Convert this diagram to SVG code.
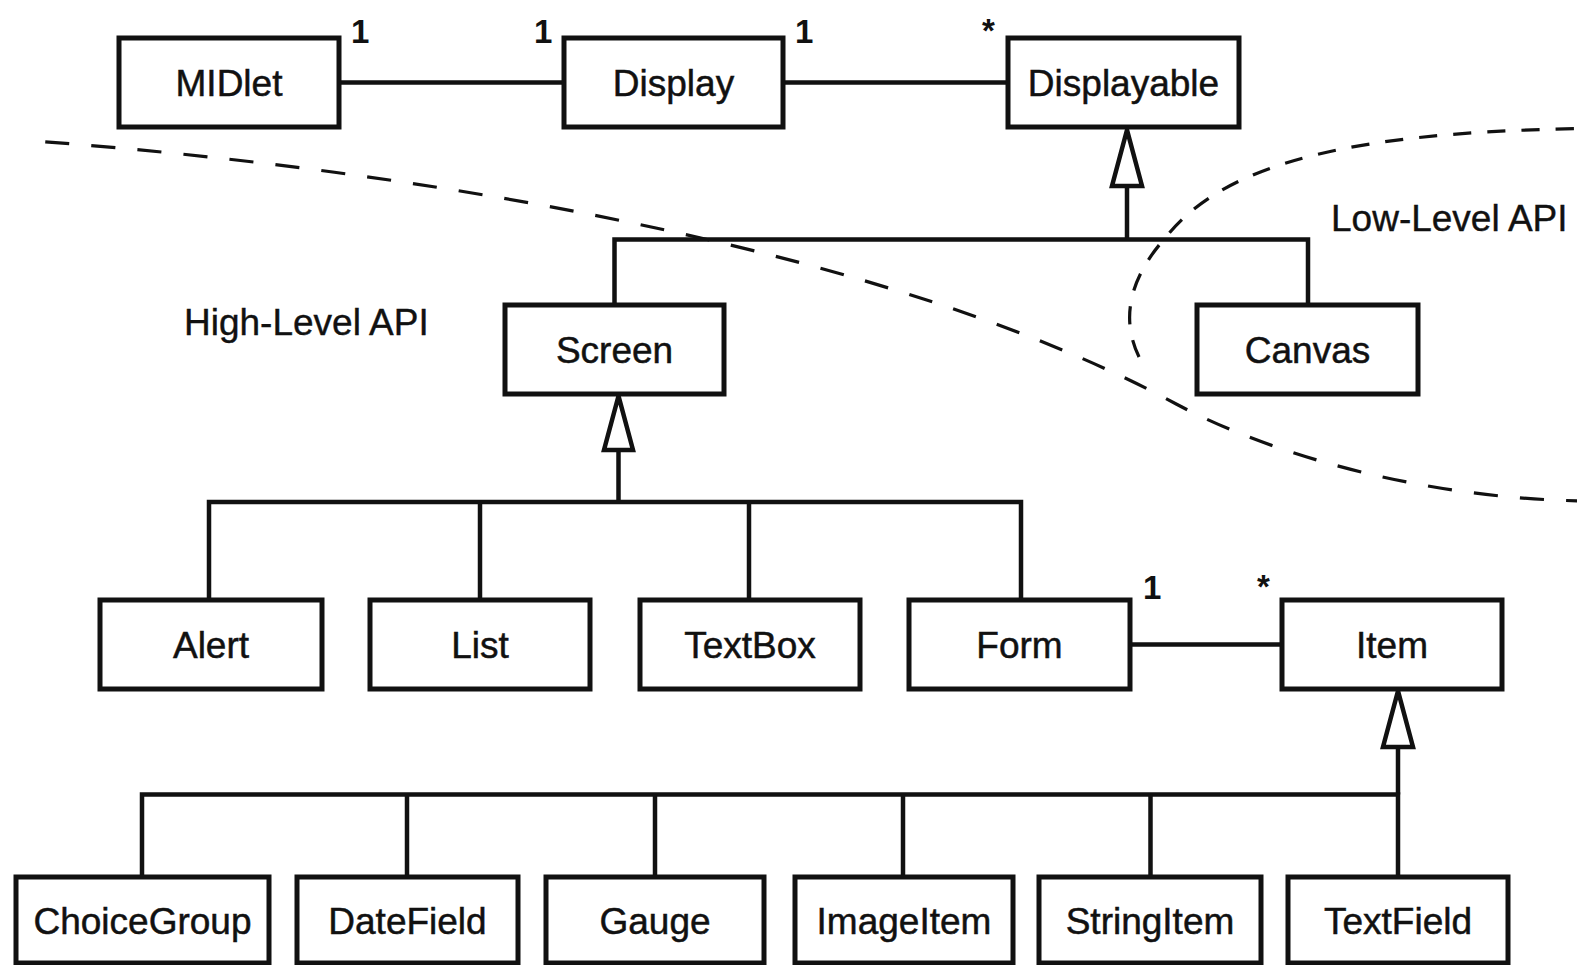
<svg xmlns="http://www.w3.org/2000/svg" width="1577" height="965" viewBox="0 0 1577 965">
<style>
.box{fill:#fff;stroke:#111;stroke-width:5}
.lbl{font-family:"Liberation Sans",Arial,sans-serif;font-size:37px;fill:#111;stroke:#111;stroke-width:0.5;text-anchor:middle}
.free{font-family:"Liberation Sans",Arial,sans-serif;font-size:37px;fill:#111;stroke:#111;stroke-width:0.4}
.mult{font-family:"Liberation Sans",Arial,sans-serif;font-size:33px;font-weight:bold;fill:#111}
.ln{fill:none;stroke:#111;stroke-width:4.5}
.tri{fill:#fff;stroke:#111;stroke-width:4.5;stroke-linejoin:miter}
.dash{fill:none;stroke:#111;stroke-width:3.2}
</style>
<rect width="1577" height="965" fill="#fff"/>
<g id="boundaries">
<path class="dash" stroke-dasharray="24 22" transform="scale(1.0057)" d="M45 141 C450 172 900 255 1170 402 C1270 455 1420 495 1570 498"/>
<path class="dash" stroke-dasharray="18 16" transform="scale(1.0057)" d="M1565 128 C1350 132 1220 160 1160 235 C1115 285 1115 330 1140 368"/>
</g>
<g id="connectors">
<line class="ln" x1="339" y1="82.5" x2="564" y2="82.5"/>
<line class="ln" x1="783" y1="82.5" x2="1008" y2="82.5"/>
<polyline class="ln" points="1127,186 1127,239.5"/>
<polyline class="ln" points="614.5,305 614.5,239.5 1308,239.5 1308,305"/>
<polygon class="tri" points="1127,130 1112,186 1142,186"/>
<polyline class="ln" points="618.5,450 618.5,502"/>
<polyline class="ln" points="209,600 209,502 1021,502 1021,600"/>
<line class="ln" x1="480" y1="502" x2="480" y2="600"/>
<line class="ln" x1="749" y1="502" x2="749" y2="600"/>
<polygon class="tri" points="618.5,396 604,450 633,450"/>
<line class="ln" x1="1130" y1="644.5" x2="1282" y2="644.5"/>
<polyline class="ln" points="1398,747 1398,794.5"/>
<polyline class="ln" points="142,877 142,794.5 1398,794.5 1398,877"/>
<line class="ln" x1="407" y1="794.5" x2="407" y2="877"/>
<line class="ln" x1="655" y1="794.5" x2="655" y2="877"/>
<line class="ln" x1="903" y1="794.5" x2="903" y2="877"/>
<line class="ln" x1="1150.5" y1="794.5" x2="1150.5" y2="877"/>
<polygon class="tri" points="1398,691 1383,747 1413,747"/>
<text class="mult" x="351" y="43">1</text>
<text class="mult" x="534" y="43">1</text>
<text class="mult" x="795" y="43">1</text>
<text class="mult" x="982" y="42" font-size="26">*</text>
<text class="mult" x="1143" y="599">1</text>
<text class="mult" x="1257" y="598" font-size="26">*</text>
</g>
<g id="labels">
<text class="free" x="184" y="335">High-Level API</text>
<text class="free" x="1331" y="231">Low-Level API</text>
</g>
<g id="MIDlet"><rect class="box" x="119" y="38" width="220" height="89"/><text class="lbl" x="229" y="96">MIDlet</text></g>
<g id="Display"><rect class="box" x="564" y="38" width="219" height="89"/><text class="lbl" x="673.5" y="96">Display</text></g>
<g id="Displayable"><rect class="box" x="1008" y="38" width="231" height="89"/><text class="lbl" x="1123.5" y="96">Displayable</text></g>
<g id="Screen"><rect class="box" x="505" y="305" width="219" height="89"/><text class="lbl" x="614.5" y="363">Screen</text></g>
<g id="Canvas"><rect class="box" x="1197" y="305" width="221" height="89"/><text class="lbl" x="1307.5" y="363">Canvas</text></g>
<g id="Alert"><rect class="box" x="100" y="600" width="222" height="89"/><text class="lbl" x="211" y="658">Alert</text></g>
<g id="List"><rect class="box" x="370" y="600" width="220" height="89"/><text class="lbl" x="480" y="658">List</text></g>
<g id="TextBox"><rect class="box" x="640" y="600" width="220" height="89"/><text class="lbl" x="750" y="658">TextBox</text></g>
<g id="Form"><rect class="box" x="909" y="600" width="221" height="89"/><text class="lbl" x="1019.5" y="658">Form</text></g>
<g id="Item"><rect class="box" x="1282" y="600" width="220" height="89"/><text class="lbl" x="1392" y="658">Item</text></g>
<g id="ChoiceGroup"><rect class="box" x="16" y="877" width="253" height="86"/><text class="lbl" x="142.5" y="934">ChoiceGroup</text></g>
<g id="DateField"><rect class="box" x="297" y="877" width="221" height="86"/><text class="lbl" x="407.5" y="934">DateField</text></g>
<g id="Gauge"><rect class="box" x="546" y="877" width="218" height="86"/><text class="lbl" x="655" y="934">Gauge</text></g>
<g id="ImageItem"><rect class="box" x="795" y="877" width="218" height="86"/><text class="lbl" x="904" y="934">ImageItem</text></g>
<g id="StringItem"><rect class="box" x="1039" y="877" width="222" height="86"/><text class="lbl" x="1150" y="934">StringItem</text></g>
<g id="TextField"><rect class="box" x="1288" y="877" width="220" height="86"/><text class="lbl" x="1398" y="934">TextField</text></g>
</svg>
